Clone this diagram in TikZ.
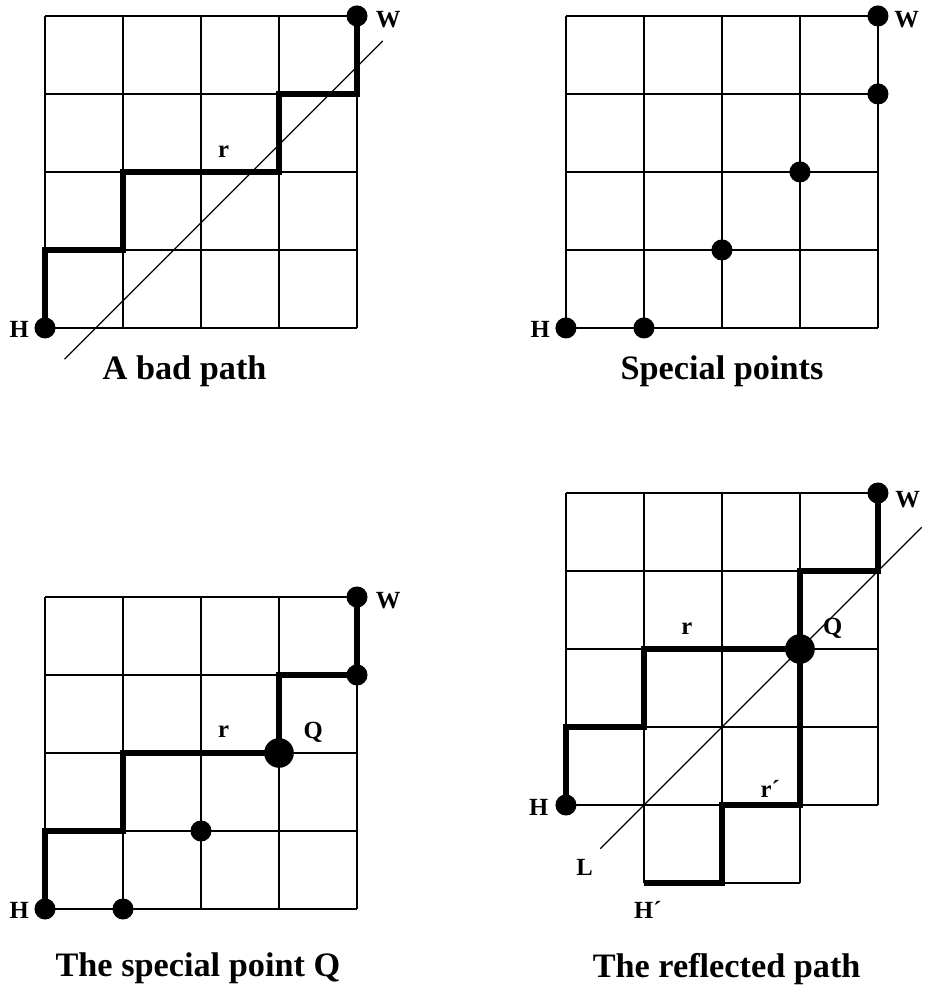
\documentclass[tikz,border=0pt]{standalone}
\usepackage{fontspec}
\setmainfont{Liberation Serif}
\usetikzlibrary{positioning}

\begin{document}
\begin{tikzpicture}[
      x = 1cm, y = 1cm, font = \bfseries,
      gridln/.style = {line width = .5pt},
      lpath/.style  = {line width = 2.3pt},
      diag/.style   = {line width = .45pt},
      dot/.style    = {circle, fill = black, inner sep = 0pt, minimum size = 2.7mm},
      bigdot/.style = {dot, minimum size = 3.8mm},
      lbl/.style    = {font = \fontsize{9}{10}\selectfont\bfseries, inner sep = 0pt, anchor = base},
      ttl/.style    = {font = \fontsize{12.5}{15}\selectfont\bfseries, inner sep = 0pt, anchor = base}
    ]
  \useasboundingbox (0,0) rectangle (11.872,12.667);

  % ---------- A bad path ------------------------------------------------
  \begin{scope}[shift = {(0.577,8.462)}]
    \draw[gridln] (0,0) grid (4,4);
    \draw[diag] (0.25,-0.40) -- (4.33,3.68);
    \draw[lpath] (0,0) |- (1,1) |- (3,2) |- (4,3) -- (4,4);
    \node[dot] (aH) at (0,0) {};
    \node[dot] (aW) at (4,4) {};
    \node[lbl] (aHl) at (-0.33,-0.12) {H};
    \node[lbl] (aWl) at (4.40,3.85) {W};
    \node[lbl] (ar)  at (2.29,2.19) {r};
    \node[ttl] (at)  at (1.79,-0.667) {A bad path};
  \end{scope}

  % ---------- Special points -------------------------------------------
  \begin{scope}[shift = {(7.256,8.462)}]
    \draw[gridln] (0,0) grid (4,4);
    \foreach \p [count = \i] in {(0,0),(1,0),(2,1),(3,2),(4,3),(4,4)}
      \node[dot] (b\i) at \p {};
    \node[lbl] (bHl) at (-0.33,-0.12) {H};
    \node[lbl] (bWl) at (4.37,3.85) {W};
    \node[ttl] (bt)  at (2.00,-0.667) {Special points};
  \end{scope}

  % ---------- The special point Q ---------------------------------------
  \begin{scope}[shift = {(0.577,1.013)}]
    \draw[gridln] (0,0) grid (4,4);
    \draw[lpath] (0,0) |- (1,1) |- (3,2) |- (4,3) -- (4,4);
    \foreach \p [count = \i] in {(0,0),(1,0),(2,1),(4,3),(4,4)}
      \node[dot] (c\i) at \p {};
    \node[bigdot] (cQ) at (3,2) {};
    \node[lbl] (cHl) at (-0.33,-0.12) {H};
    \node[lbl] (cWl) at (4.40,3.85) {W};
    \node[lbl] (cr)  at (2.29,2.20) {r};
    \node[lbl] (cQl) at (3.44,2.19) {Q};
    \node[ttl] (ct)  at (1.96,-0.87) {The special point Q};
  \end{scope}

  % ---------- The reflected path ----------------------------------------
  \begin{scope}[shift = {(7.256,2.346)}]
    \draw[gridln] (0,0) grid (4,4);
    \draw[gridln] (1,-1) grid (3,0);
    \draw[diag] (0.44,-0.56) -- (4.56,3.56);
    \draw[lpath] (0,0) |- (1,1) |- (3,2) |- (4,3) -- (4,4);
    \draw[lpath] (3,2) |- (2,0) |- (1,-1);
    \node[dot] (dH) at (0,0) {};
    \node[dot] (dW) at (4,4) {};
    \node[bigdot] (dQ) at (3,2) {};
    \node[lbl] (dHl) at (-0.35,-0.13) {H};
    \node[lbl] (dWl) at (4.38,3.82) {W};
    \node[lbl] (dr)  at (1.55,2.18) {r};
    \node[lbl] (dQl) at (3.42,2.19) {Q};
    \node[lbl] (drp) at (2.62,0.09) {r´};
    \node[lbl] (dL)  at (0.24,-0.90) {L};
    \node[lbl] (dHp) at (1.05,-1.45) {H´};
    \node[ttl] (dt)  at (2.06,-2.205) {The reflected path};
  \end{scope}
\end{tikzpicture}
\end{document}
